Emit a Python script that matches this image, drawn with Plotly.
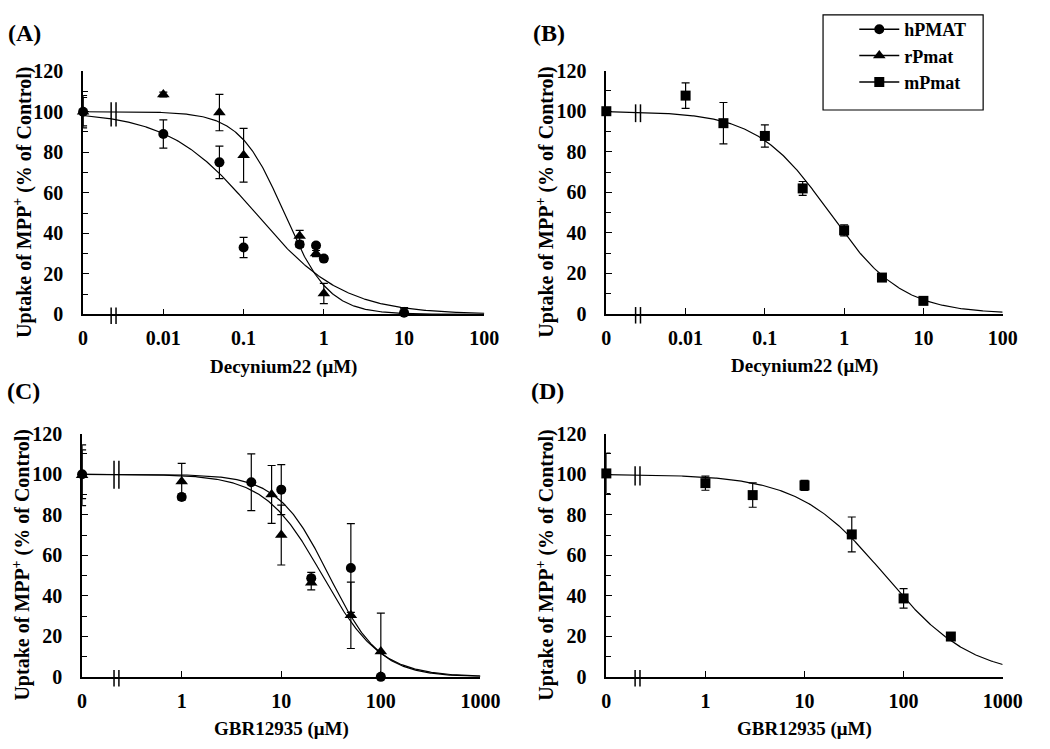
import numpy as np
import plotly.graph_objects as go

W, H = 1050, 749
FONT = "Liberation Serif"

# ---------------- data ----------------
# Panel A : Decynium22 (uM)
a_conc = [0, 0.01, 0.05, 0.1, 0.5, 0.8, 1, 10]
a_hpmat = [100, 89, 75, 33, 34.5, 34, 27.5, 0.8]
a_hpmat_err = [7, 7, 8, 5, 1.5, 1.2, 1.2, 2.5]
a_rpmat = [100, 108.5, 99.6, 78.5, 38.7, 30, 10.3, 1]
a_rpmat_err = [8, 1.2, 9, 13.3, 2.7, 1.5, 5, 2]

# Panel B : Decynium22 (uM)
b_conc = [0, 0.01, 0.03, 0.1, 0.3, 1, 3, 10]
b_mpmat = [100, 107.7, 94.1, 87.8, 61.9, 41.2, 17.9, 6.4]
b_mpmat_err = [0, 6.3, 10.2, 5.5, 3.4, 2.7, 1.5, 1]

# Panel C : GBR12935 (uM)
c_h_conc = [0, 1, 5, 10, 20, 50, 100]
c_hpmat = [100, 88.8, 96, 92.4, 48.7, 53.7, 0]
c_hpmat_err = [12, 1.5, 14, 12.3, 2.9, 21.9, 0]
c_r_conc = [0, 1, 8, 10, 20, 50, 100]
c_rpmat = [99.5, 96.4, 90, 70, 46.5, 30.4, 12.5]
c_rpmat_err = [15, 9, 14.3, 14.8, 3.6, 16.4, 19]

# Panel D : GBR12935 (uM)
d_conc = [0, 1, 3, 10, 30, 100, 300]
d_mpmat = [100.4, 95.6, 89.7, 94.5, 70.3, 38.7, 19.9]
d_mpmat_err = [10, 3.5, 6, 2.5, 8.6, 4.8, 1]

# fitted dose-response curves: IC50 (uM) and Hill slope
fit_a_hpmat = (0.14, 0.8)
fit_a_rpmat = (0.32, 1.57)
fit_b_mpmat = (0.65, 0.95)
fit_c_hpmat = (30.2, 1.69)
fit_c_rpmat = (25.9, 1.5)
fit_d_mpmat = (65.0, 1.0)

# axis tick labels
dec_tickvals = [0.001, 0.01, 0.1, 1, 10, 100]
dec_ticktext = ["0", "0.01", "0.1", "1", "10", "100"]
gbr_tickvals = [0.1, 1, 10, 100, 1000]
gbr_ticktext = ["0", "1", "10", "100", "1000"]
y_ticks = [0, 20, 40, 60, 80, 100, 120]

series_names = ["hPMAT", "rPmat", "mPmat"]

# ---------------- layout geometry (pixels) ----------------
panels = {
    "A": dict(xpx=(80, 491), ypx=(62, 312.5), xr=(-3, 2), zero=0.001, brk=-2.62, cbrk=(92.7, 104.7)),
    "B": dict(xpx=(616, 1022), ypx=(61.5, 312), xr=(-3, 2), zero=0.001, brk=-2.6, cbrk=(94.6, 103.4)),
    "C": dict(xpx=(79, 487), ypx=(435.5, 686), xr=(-1, 3), zero=0.1, brk=-0.655, cbrk=(92.8, 106.7)),
    "D": dict(xpx=(616, 1022), ypx=(435.5, 686), xr=(-1, 3), zero=0.1, brk=-0.685, cbrk=(94.5, 104)),
}
axis_ids = {"A": "", "B": "2", "C": "3", "D": "4"}


def to_paper_x(px):
    return px / W


def to_paper_y(py):
    return 1 - py / H


def data_px(p, logx, yv):
    cfg = panels[p]
    x0, x1 = cfg["xpx"]
    y0, y1 = cfg["ypx"]
    r0, r1 = cfg["xr"]
    px = x0 + (logx - r0) / (r1 - r0) * (x1 - x0)
    py = y1 - yv / 120 * (y1 - y0)
    return px, py


def plot_x(p, conc):
    z = panels[p]["zero"]
    return [z if c == 0 else c for c in conc]


def hill(x, ic50, n):
    return 100.0 / (1.0 + (x / ic50) ** n)


fig = go.Figure()

symbols = {"hPMAT": "circle", "rPmat": "triangle-up", "mPmat": "square"}
msize = {"hPMAT": 10, "rPmat": 11, "mPmat": 10}


def add_points(p, name, conc, vals, errs):
    ax = axis_ids[p]
    fig.add_trace(go.Scatter(
        x=plot_x(p, conc), y=vals, mode="markers", name=name, showlegend=False,
        marker=dict(symbol=symbols[name], size=msize[name], color="black"),
        error_y=dict(type="data", array=errs, visible=True, color="black", thickness=1.2, width=4),
        cliponaxis=False,
        xaxis="x" + ax, yaxis="y" + ax,
    ))


def add_curve(p, fit):
    ax = axis_ids[p]
    r0, r1 = panels[p]["xr"]
    xs = np.logspace(r0, r1, 400)
    fig.add_trace(go.Scatter(
        x=xs, y=hill(xs, *fit), mode="lines", showlegend=False, hoverinfo="skip",
        line=dict(color="black", width=1.2),
        xaxis="x" + ax, yaxis="y" + ax,
    ))


add_curve("A", fit_a_hpmat)
add_curve("A", fit_a_rpmat)
add_points("A", "hPMAT", a_conc, a_hpmat, a_hpmat_err)
add_points("A", "rPmat", a_conc, a_rpmat, a_rpmat_err)

add_curve("B", fit_b_mpmat)
add_points("B", "mPmat", b_conc, b_mpmat, b_mpmat_err)

add_curve("C", fit_c_hpmat)
add_curve("C", fit_c_rpmat)
add_points("C", "hPMAT", c_h_conc, c_hpmat, c_hpmat_err)
add_points("C", "rPmat", c_r_conc, c_rpmat, c_rpmat_err)

add_curve("D", fit_d_mpmat)
add_points("D", "mPmat", d_conc, d_mpmat, d_mpmat_err)

# legend entries (line + marker symbol)
for nm in series_names:
    fig.add_trace(go.Scatter(
        x=[None], y=[None], mode="lines+markers", name=nm,
        marker=dict(symbol=symbols[nm], size=msize[nm], color="black"),
        line=dict(color="black", width=1.5),
        xaxis="x2", yaxis="y2",
    ))

tick_font = dict(family=FONT, size=20, color="black", weight="bold")
layout = dict(
    width=W, height=H, autosize=False,
    margin=dict(l=0, r=0, t=0, b=0),
    paper_bgcolor="white", plot_bgcolor="white",
    font=dict(family=FONT, color="black"),
    showlegend=True,
    legend=dict(
        x=to_paper_x(870), y=to_paper_y(0), xanchor="left", yanchor="top",
        bgcolor="rgba(0,0,0,0)", borderwidth=0,
        font=dict(family=FONT, size=18, color="black", weight="bold"),
        itemwidth=40, tracegroupgap=0,
    ),
)

shapes = []
annotations = []
xtitles = {"A": "Decynium22 (μM)", "B": "Decynium22 (μM)", "C": "GBR12935 (μM)", "D": "GBR12935 (μM)"}
ticks_x = {"A": (dec_tickvals, dec_ticktext), "B": (dec_tickvals, dec_ticktext),
           "C": (gbr_tickvals, gbr_ticktext), "D": (gbr_tickvals, gbr_ticktext)}

for p, cfg in panels.items():
    ax = axis_ids[p]
    x0, x1 = cfg["xpx"]
    y0, y1 = cfg["ypx"]
    tv, tt = ticks_x[p]
    layout["xaxis" + ax] = dict(
        domain=[to_paper_x(x0), to_paper_x(x1)], anchor="y" + ax,
        type="log", range=list(cfg["xr"]), tickvals=tv, ticktext=tt,
        ticks="inside", ticklen=6, tickwidth=1.3, tickcolor="black",
        showline=True, linecolor="black", linewidth=1.5, showgrid=False, zeroline=False,
        tickfont=tick_font, ticklabelstandoff=5,
    )
    layout["yaxis" + ax] = dict(
        domain=[to_paper_y(y1), to_paper_y(y0)], anchor="x" + ax,
        range=[0, 120], tickvals=y_ticks,
        ticks="inside", ticklen=6, tickwidth=1.3, tickcolor="black",
        minor=dict(dtick=10, ticks="inside", ticklen=5, tickwidth=1.3, tickcolor="black"),
        showline=True, linecolor="black", linewidth=1.5, showgrid=False, zeroline=False,
        tickfont=tick_font, ticklabelstandoff=14,
    )
    # axis break marks "||" on the x axis and on the fitted curves
    for dx in (-2.5, 2.5):
        bx, _ = data_px(p, cfg["brk"], 0)
        shapes.append(dict(type="line", xref="paper", yref="paper",
                           x0=to_paper_x(bx + dx), x1=to_paper_x(bx + dx),
                           y0=to_paper_y(y1 + 10), y1=to_paper_y(y1 - 7),
                           line=dict(color="black", width=1.5)))
        _, cy0 = data_px(p, cfg["brk"], cfg["cbrk"][0])
        _, cy1 = data_px(p, cfg["brk"], cfg["cbrk"][1])
        shapes.append(dict(type="line", xref="paper", yref="paper",
                           x0=to_paper_x(bx + dx), x1=to_paper_x(bx + dx),
                           y0=to_paper_y(cy0), y1=to_paper_y(cy1),
                           line=dict(color="black", width=1.5)))
    # axis titles
    annotations.append(dict(
        text=xtitles[p], xref="paper", yref="paper",
        x=to_paper_x((x0 + x1) / 2), y=to_paper_y(y1 + 54),
        xanchor="center", yanchor="middle", showarrow=False,
        font=dict(family=FONT, size=19, color="black", weight="bold"),
    ))
    annotations.append(dict(
        text="Uptake of MPP<sup>+</sup> (% of Control)", xref="paper", yref="paper",
        x=to_paper_x(x0 - 62), y=to_paper_y((y0 + y1) / 2 + 10), textangle=-90,
        xanchor="center", yanchor="middle", showarrow=False,
        font=dict(family=FONT, size=20, color="black", weight="bold"),
    ))

panel_labels = {"A": (20, 23), "B": (557, 23), "C": (19, 391), "D": (556, 391)}
for lab, (lx, ly) in panel_labels.items():
    annotations.append(dict(
        text="(" + lab + ")", xref="paper", yref="paper",
        x=to_paper_x(lx), y=to_paper_y(ly), xanchor="center", yanchor="middle",
        showarrow=False, font=dict(family=FONT, size=24, color="black", weight="bold"),
    ))

# legend frame
shapes.append(dict(type="rect", xref="paper", yref="paper",
                   x0=to_paper_x(838), x1=to_paper_x(1002), y0=to_paper_y(102), y1=to_paper_y(4),
                   line=dict(color="black", width=1.2), fillcolor="rgba(0,0,0,0)"))

layout["shapes"] = shapes
layout["annotations"] = annotations
fig.update_layout(**layout)

fig.write_html("out.html", config={"displayModeBar": False},
               post_script="document.body.style.margin='0';document.body.style.overflow='hidden';")
